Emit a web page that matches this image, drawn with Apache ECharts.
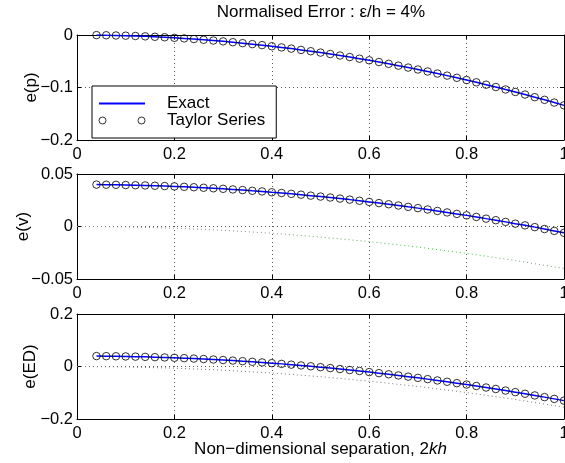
<!DOCTYPE html>
<html>
<head>
<meta charset="utf-8">
<script src="https://cdn.jsdelivr.net/npm/echarts@6/dist/echarts.min.js"></script>
<style>html,body{margin:0;padding:0;background:#fff}#c{width:565px;height:463px}</style>
</head>
<body>
<div id="c"></div>
<script>
// ---- data ----
const xs = [0.04,0.06,0.08,0.10,0.12,0.14,0.16,0.18,0.20,0.22,0.24,0.26,0.28,0.30,0.32,0.34,0.36,0.38,0.40,0.42,0.44,0.46,0.48,0.50,0.52,0.54,0.56,0.58,0.60,0.62,0.64,0.66,0.68,0.70,0.72,0.74,0.76,0.78,0.80,0.82,0.84,0.86,0.88,0.90,0.92,0.94,0.96,0.98,1.00];
// e(p): exact curve and Taylor series markers (coincide)
const eP = [-0.0002,-0.0005,-0.0009,-0.0013,-0.0019,-0.0026,-0.0034,-0.0043,-0.0054,-0.0065,-0.0077,-0.0091,-0.0105,-0.0121,-0.0137,-0.0155,-0.0174,-0.0193,-0.0214,-0.0236,-0.0259,-0.0284,-0.0309,-0.0335,-0.0362,-0.0391,-0.0420,-0.0451,-0.0482,-0.0515,-0.0549,-0.0584,-0.0620,-0.0657,-0.0695,-0.0734,-0.0774,-0.0815,-0.0858,-0.0901,-0.0946,-0.0991,-0.1038,-0.1085,-0.1134,-0.1184,-0.1235,-0.1287,-0.1340];
// e(v)
const eV = [0.0399,0.0398,0.0397,0.0395,0.0393,0.0391,0.0388,0.0385,0.0382,0.0378,0.0374,0.0369,0.0364,0.0359,0.0353,0.0347,0.0340,0.0334,0.0326,0.0319,0.0311,0.0303,0.0294,0.0285,0.0276,0.0266,0.0256,0.0245,0.0234,0.0223,0.0212,0.0200,0.0187,0.0175,0.0162,0.0148,0.0134,0.0120,0.0106,0.0091,0.0075,0.0060,0.0044,0.0027,0.0011,-0.0006,-0.0024,-0.0042,-0.0060];
// e(ED)
const eED = [0.0397,0.0394,0.0389,0.0383,0.0376,0.0367,0.0356,0.0345,0.0332,0.0318,0.0302,0.0285,0.0267,0.0247,0.0226,0.0203,0.0180,0.0155,0.0128,0.0100,0.0071,0.0040,0.0008,-0.0025,-0.0060,-0.0096,-0.0133,-0.0172,-0.0212,-0.0253,-0.0296,-0.0341,-0.0386,-0.0433,-0.0481,-0.0531,-0.0582,-0.0634,-0.0688,-0.0743,-0.0800,-0.0857,-0.0916,-0.0977,-0.1039,-0.1102,-0.1167,-0.1233,-0.1300];
// dotted reference curves
const refX = [0,0.1,0.2,0.3,0.4,0.5,0.6,0.7,0.8,0.9,1.0];
const refV = [0,-0.0004,-0.0016,-0.0036,-0.0064,-0.0100,-0.0144,-0.0196,-0.0256,-0.0324,-0.0400];
const refED = [0,-0.0016,-0.0062,-0.0140,-0.0248,-0.0388,-0.0558,-0.0760,-0.0992,-0.1256,-0.1550];
// axes
const yMins = [-0.2,-0.05,-0.2];
const yMaxs = [0,0.05,0.2];
const yIntervals = [0.1,0.05,0.2];
const yNames = ['e(p)','e(v)','e(ED)'];
const titleText = 'Normalised Error : ε/h = 4%';
const xName = 'Non−dimensional separation, 2{i|kh}';

// ---- layout / styles ----
const FONT = 'Liberation Sans, Arial, Helvetica, sans-serif';
const gridTops = [35,174,314];
const nameGaps = [37,45,38];
const pair = (a,b)=>a.map((v,i)=>[v,b[i]]);
const minus = v => (v<0?'\u2212':'') + String(Math.abs(+v.toFixed(4)));
const dotted = {show:true,lineStyle:{color:'#555',width:1,type:[1,3]}};
const frame = {show:true,onZero:false,lineStyle:{color:'#000',width:1}};
const tick = {show:true,inside:true,length:4,lineStyle:{color:'#000',width:1}};

const grid=[], xAxis=[], yAxis=[];
for(let i=0;i<3;i++){
  grid.push({left:77,right:1,top:gridTops[i],height:105,containLabel:false,outerBoundsMode:'none'});
  xAxis.push({type:'value',gridIndex:i,position:'bottom',min:0,max:1,interval:0.2,
    axisLine:frame,axisTick:tick,splitLine:dotted,
    axisLabel:{margin:6,fontSize:16.5,color:'#000',fontFamily:FONT},
    name: i===2?xName:'', nameLocation:'middle', nameGap:22, nameMoveOverlap:false,
    nameTextStyle:{fontSize:17,color:'#000',fontFamily:FONT,rich:{i:{fontSize:17,fontStyle:'italic',color:'#000',fontFamily:FONT}}}});
  xAxis.push({type:'value',gridIndex:i,position:'top',min:0,max:1,interval:0.2,
    axisLine:frame,axisTick:tick,splitLine:{show:false},axisLabel:{show:false}});
  yAxis.push({type:'value',gridIndex:i,position:'left',min:yMins[i],max:yMaxs[i],interval:yIntervals[i],
    axisLine:frame,axisTick:tick,splitLine:dotted,
    axisLabel:{margin:4,fontSize:16.5,color:'#000',fontFamily:FONT,formatter:minus},
    name:yNames[i],nameLocation:'middle',nameGap:nameGaps[i],nameMoveOverlap:false,
    nameTextStyle:{fontSize:17,color:'#000',fontFamily:FONT}});
  yAxis.push({type:'value',gridIndex:i,position:'right',min:yMins[i],max:yMaxs[i],interval:yIntervals[i],
    axisLine:frame,axisTick:tick,splitLine:{show:false},axisLabel:{show:false}});
}

const exactLine = (name,i,data)=>({name,type:'line',xAxisIndex:2*i,yAxisIndex:2*i,data,
  symbol:'none',showSymbol:false,lineStyle:{color:'#0000ff',width:1.5},itemStyle:{color:'#0000ff'},z:3,silent:true});
const taylor = (name,i,data)=>({name,type:'scatter',xAxisIndex:2*i,yAxisIndex:2*i,data,
  symbol:'circle',symbolSize:7.5,itemStyle:{color:'rgba(0,0,0,0)',borderColor:'#000',borderWidth:1},z:4,silent:true});
const refLine = (name,i,data,color)=>({name,type:'line',xAxisIndex:2*i,yAxisIndex:2*i,data,
  symbol:'none',showSymbol:false,lineStyle:{color,width:1,type:[1,3]},z:2,silent:true});

const series = [
  exactLine('Exact',0,pair(xs,eP)),
  taylor('Taylor Series',0,pair(xs,eP)),
  refLine('ref v',1,pair(refX,refV),'#55b555'),
  exactLine('Exact v',1,pair(xs,eV)),
  taylor('Taylor v',1,pair(xs,eV)),
  refLine('ref ED',2,pair(refX,refED),'#777777'),
  exactLine('Exact ED',2,pair(xs,eED)),
  taylor('Taylor ED',2,pair(xs,eED))
];

const chart = echarts.init(document.getElementById('c'),null,{renderer:'canvas'});
chart.setOption({
  animation:false,
  backgroundColor:'#fff',
  textStyle:{fontFamily:FONT},
  title:{text:titleText,left:321,top:4,textAlign:'center',padding:0,
    textStyle:{fontSize:17,fontWeight:'normal',color:'#000',fontFamily:FONT}},
  legend:{orient:'vertical',left:92,top:86,padding:[9,11,9,6],itemGap:0,
    itemWidth:46,itemHeight:7,selectedMode:false,
    backgroundColor:'#fff',borderColor:'#000',borderWidth:1,borderRadius:0,
    textStyle:{fontSize:17,color:'#000',fontFamily:FONT,padding:[0,0,0,17]},
    data:[{name:'Exact',itemStyle:{color:'rgba(0,0,0,0)',borderWidth:0,borderColor:'rgba(0,0,0,0)'}},
      {name:'Taylor Series',
       icon:'path://M0,3.5a3.5,3.5 0 1,0 7,0a3.5,3.5 0 1,0 -7,0zM39,3.5a3.5,3.5 0 1,0 7,0a3.5,3.5 0 1,0 -7,0z',
       itemStyle:{color:'rgba(0,0,0,0)',borderColor:'#000',borderWidth:1}}]},
  grid, xAxis, yAxis, series
});
</script>
</body>
</html>
